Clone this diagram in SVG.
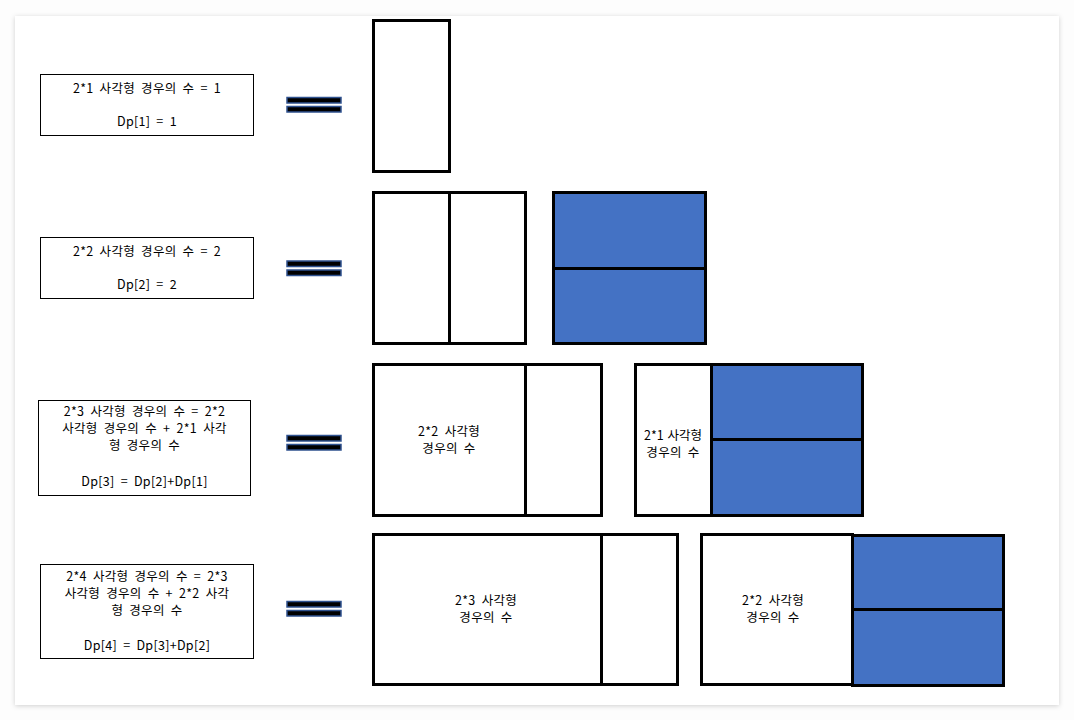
<svg xmlns="http://www.w3.org/2000/svg" width="1074" height="720" viewBox="0 0 1074 720">
<defs>
<filter id="sh" x="-5%" y="-5%" width="110%" height="110%">
<feDropShadow dx="0" dy="1" stdDeviation="2.5" flood-color="#000" flood-opacity="0.18"/>
</filter>
<style>
.box{fill:#fff;stroke:#000;stroke-width:1}
.t{font-family:"Noto Sans CJK KR","Noto Sans",sans-serif;font-size:12.5px;letter-spacing:0.3px;word-spacing:3px;fill:#000;text-anchor:middle}
.w{fill:#fff;stroke:#000;stroke-width:3}
.b{fill:#4472C4;stroke:#000;stroke-width:3}
.eq{fill:#000;stroke:#2F528F;stroke-width:1.5}
</style>
</defs>
<rect x="0" y="0" width="1074" height="720" fill="#fdfdfd"/>
<rect x="15" y="16" width="1044" height="689" fill="#fff" filter="url(#sh)"/>

<g id="label1">
<rect class="box" x="40.5" y="74.5" width="213" height="61"/>
<text class="t" x="147" y="93">2*1 사각형 경우의 수 = 1</text>
<text class="t" x="147" y="126">Dp[1]  = 1</text>
</g>
<g id="label2">
<rect class="box" x="40.5" y="237.5" width="213" height="61"/>
<text class="t" x="147" y="256">2*2 사각형 경우의 수 = 2</text>
<text class="t" x="147" y="289">Dp[2]  = 2</text>
</g>
<g id="label3">
<rect class="box" x="38.5" y="400.5" width="212" height="95"/>
<text class="t" x="144.5" y="416">2*3 사각형 경우의 수 = 2*2</text>
<text class="t" x="144.5" y="433">사각형 경우의 수 + 2*1 사각</text>
<text class="t" x="144.5" y="450">형 경우의 수</text>
<text class="t" x="144.5" y="486">Dp[3]  = Dp[2]+Dp[1]</text>
</g>
<g id="label4">
<rect class="box" x="40.5" y="564.5" width="213" height="94"/>
<text class="t" x="147" y="581">2*4 사각형 경우의 수 = 2*3</text>
<text class="t" x="147" y="598">사각형 경우의 수 + 2*2 사각</text>
<text class="t" x="147" y="615">형 경우의 수</text>
<text class="t" x="147" y="650">Dp[4]  = Dp[3]+Dp[2]</text>
</g>

<g id="equals">
<rect class="eq" x="287" y="97.5" width="54" height="5.5"/>
<rect class="eq" x="287" y="106.5" width="54" height="5.5"/>
<rect class="eq" x="287" y="261" width="54" height="5.5"/>
<rect class="eq" x="287" y="270" width="54" height="5.5"/>
<rect class="eq" x="287" y="435.5" width="54" height="5.5"/>
<rect class="eq" x="287" y="444.5" width="54" height="5.5"/>
<rect class="eq" x="287" y="601.5" width="54" height="5.5"/>
<rect class="eq" x="287" y="610.5" width="54" height="5.5"/>
</g>

<g id="row1">
<rect class="w" x="373.5" y="20.5" width="76" height="151"/>
</g>
<g id="row2">
<rect class="w" x="373.5" y="192.5" width="76" height="151"/>
<rect class="w" x="449.5" y="192.5" width="76" height="151"/>
<rect class="b" x="553.5" y="192.5" width="152" height="76"/>
<rect class="b" x="553.5" y="268.5" width="152" height="75"/>
</g>
<g id="row3">
<rect class="w" x="373.5" y="364.5" width="152" height="151"/>
<rect class="w" x="525.5" y="364.5" width="76" height="151"/>
<text class="t" x="449" y="436">2*2 사각형</text>
<text class="t" x="449" y="453">경우의 수</text>
<rect class="w" x="635.5" y="364.5" width="76" height="151"/>
<text class="t" x="673" y="440" style="letter-spacing:0;word-spacing:1px">2*1 사각형</text>
<text class="t" x="673" y="457">경우의 수</text>
<rect class="b" x="711.5" y="364.5" width="151" height="75"/>
<rect class="b" x="711.5" y="439.5" width="151" height="76"/>
</g>
<g id="row4">
<rect class="w" x="373.5" y="534.5" width="228" height="150"/>
<rect class="w" x="601.5" y="534.5" width="76" height="150"/>
<text class="t" x="486" y="605">2*3 사각형</text>
<text class="t" x="486" y="622">경우의 수</text>
<rect class="w" x="701.5" y="534.5" width="151" height="150"/>
<text class="t" x="773" y="605">2*2 사각형</text>
<text class="t" x="773" y="622">경우의 수</text>
<rect class="b" x="852.5" y="535.5" width="151" height="74"/>
<rect class="b" x="852.5" y="609.5" width="151" height="76"/>
</g>
</svg>
